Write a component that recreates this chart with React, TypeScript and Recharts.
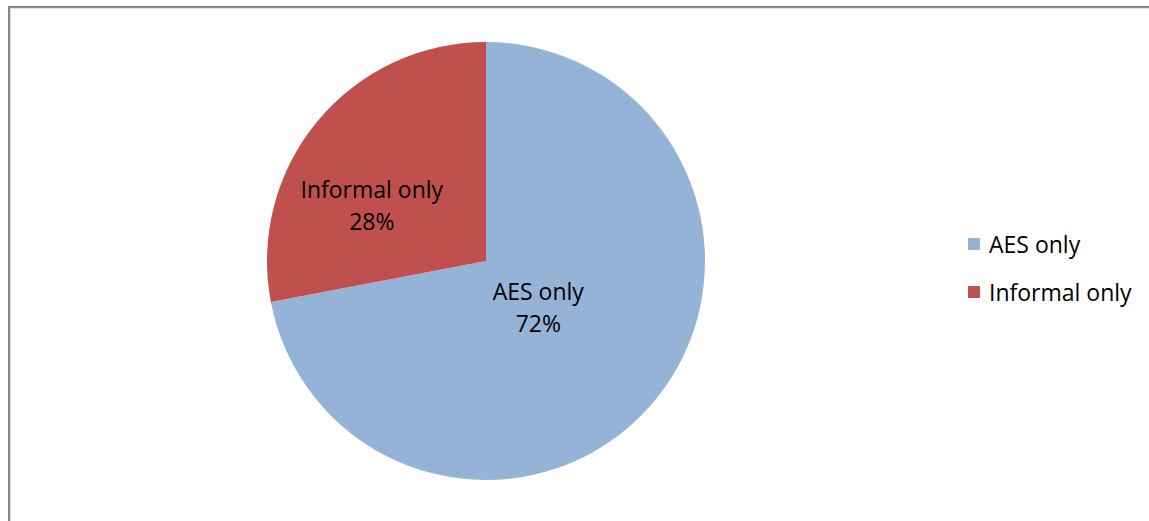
import React from "react";
import { PieChart, Pie, Cell, Legend } from "recharts";

const categories = ["AES only", "Informal only"];
const shares = [72, 28];
const colors = ["#95B3D7", "#C0504D"];

const data = categories.map((name, i) => ({ name, value: shares[i] }));

const FONT = "'Open Sans', Lato, sans-serif";
const RADIAN = Math.PI / 180;
// label placement (fraction of radius along the slice middle, then a nudge)
const labelDist = [0.31, 0.57];
const labelShift = [
  [0, 0],
  [-18, 21],
];

function renderLabel(props: any) {
  const { cx, cy, midAngle, outerRadius, index, name, value } = props;
  const r = outerRadius * labelDist[index];
  const x = cx + r * Math.cos(-midAngle * RADIAN) + labelShift[index][0];
  const y = cy + r * Math.sin(-midAngle * RADIAN) + labelShift[index][1];
  return (
    <text
      x={x}
      y={y}
      textAnchor="middle"
      fill="#000"
      fontSize={23}
      fontFamily={FONT}
    >
      <tspan x={x} dy={-4}>
        {name}
      </tspan>
      <tspan x={x} dy={32}>
        {value}%
      </tspan>
    </text>
  );
}

function renderLegend() {
  return (
    <div style={{ fontFamily: FONT, fontSize: 23, color: "#000" }}>
      {categories.map((c, i) => (
        <div
          key={c}
          style={{ display: "flex", alignItems: "center", height: 48 }}
        >
          <span
            style={{
              width: 12,
              height: 12,
              background: colors[i],
              marginRight: 9,
              display: "inline-block",
            }}
          />
          {c}
        </div>
      ))}
    </div>
  );
}

export default function App() {
  return (
    <div
      style={{
        position: "absolute",
        left: 0,
        top: 0,
        width: 1149,
        height: 521,
        overflow: "hidden",
        background: "#fff",
      }}
    >
      <div
        style={{
          position: "absolute",
          left: 8,
          top: 6,
          width: 1200,
          height: 600,
          borderLeft: "2px solid #888",
          borderTop: "2px solid #888",
          boxShadow: "inset 1px 1px 0 #ddd",
        }}
      />
      <PieChart
        width={1149}
        height={521}
        margin={{ top: 0, right: 0, bottom: 0, left: 0 }}
        style={{ position: "absolute", left: 0, top: 0 }}
      >
        <Pie
          data={data}
          dataKey="value"
          nameKey="name"
          cx={486}
          cy={261}
          outerRadius={219}
          startAngle={90}
          endAngle={-270}
          stroke="none"
          label={renderLabel}
          labelLine={false}
          isAnimationActive={false}
        >
          {data.map((d, i) => (
            <Cell key={d.name} fill={colors[i]} />
          ))}
        </Pie>
        <Legend
          content={renderLegend}
          layout="vertical"
          wrapperStyle={{ left: 968, top: 220, width: 181 }}
        />
      </PieChart>
    </div>
  );
}
